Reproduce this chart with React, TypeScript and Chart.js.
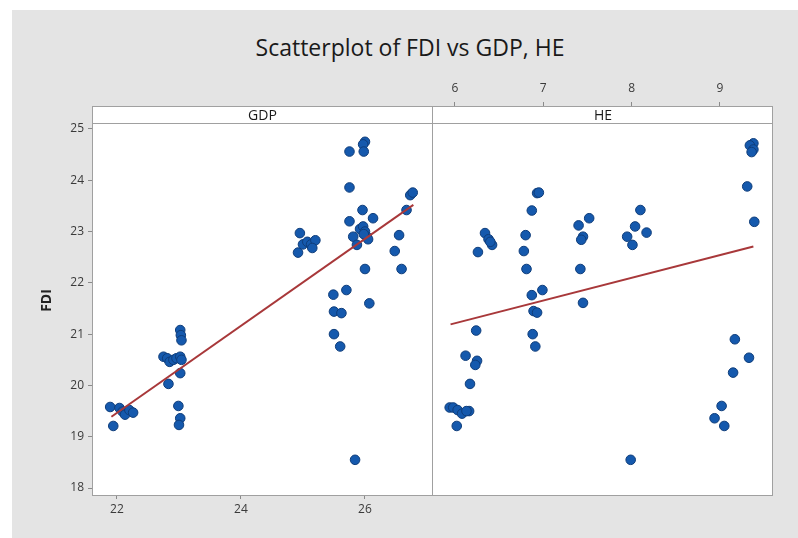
import React, { useEffect, useRef } from "react";
import { Chart, registerables } from "chart.js";

Chart.register(...registerables);

// ---- Data ----
const chartTitle = "Scatterplot of FDI vs GDP, HE";
const yAxisTitle = "FDI";
const panelNames = ["GDP", "HE"];

const fdiTicks = [18, 19, 20, 21, 22, 23, 24, 25];
const gdpTicks = [22, 24, 26];
const heTicks = [6, 7, 8, 9];

const gdpX = [
  21.89, 21.94, 22.04, 22.09, 22.13, 22.2, 22.26,
  22.75, 22.81, 22.85, 22.91, 22.96, 23.02, 23.04,
  22.83, 23.02, 23.03, 23.04, 23.02, 22.99, 23.02, 23.0,
  24.95, 24.92, 25.0, 25.07, 25.13, 25.2, 25.15,
  25.75, 26.0, 25.97, 25.98, 25.75, 25.96, 25.75, 26.13, 25.81, 25.87,
  25.92, 25.97, 26.0, 26.03, 26.05, 25.98, 26.0, 26.07, 25.49, 25.7,
  25.5, 25.62, 25.5, 25.6, 25.84,
  26.55, 26.48, 26.59, 26.67, 26.73, 26.77,
];
const gdpFdi = [
  19.58, 19.21, 19.56, 19.49, 19.43, 19.52, 19.47,
  20.56, 20.53, 20.46, 20.5, 20.53, 20.56, 20.5,
  20.03, 21.08, 20.98, 20.88, 20.24, 19.6, 19.36, 19.23,
  22.97, 22.59, 22.75, 22.8, 22.75, 22.83, 22.68,
  24.56, 24.75, 24.7, 24.56, 23.86, 23.42, 23.2, 23.26, 22.9, 22.74,
  23.05, 23.1, 23.0, 22.9, 22.85, 22.95, 22.27, 21.6, 21.77, 21.86,
  21.44, 21.41, 21.0, 20.76, 18.55,
  22.93, 22.62, 22.27, 23.42, 23.71, 23.76,
];

const heX = [
  9.38, 9.34, 9.38, 9.36, 9.31, 9.39, 9.17, 9.33, 9.15, 9.02, 8.94, 9.05, 7.99,
  8.1, 8.04, 8.17, 7.95, 8.01,
  7.52, 7.4, 7.45, 7.43, 7.42, 7.45,
  6.93, 6.95, 6.87, 6.8, 6.78, 6.81, 6.87, 6.99, 6.89, 6.93, 6.88, 6.91,
  6.34, 6.38, 6.42, 6.4, 6.26,
  6.24, 6.12, 6.25, 6.23, 6.17,
  5.94, 5.98, 6.03, 6.08, 6.16, 6.13, 6.02,
];
const heFdi = [
  24.72, 24.68, 24.6, 24.55, 23.88, 23.19, 20.9, 20.54, 20.25, 19.6, 19.36, 19.21, 18.55,
  23.42, 23.1, 22.98, 22.9, 22.74,
  23.26, 23.12, 22.9, 22.84, 22.27, 21.61,
  23.75, 23.76, 23.41, 22.93, 22.62, 22.27, 21.76, 21.86, 21.45, 21.42, 21.0, 20.76,
  22.97, 22.85, 22.74, 22.8, 22.6,
  21.07, 20.58, 20.48, 20.4, 20.03,
  19.57, 19.57, 19.52, 19.45, 19.5, 19.5, 19.21,
];

const gdpFitX = [21.91, 26.78];
const gdpFitY = [19.39, 23.52];
const heFitX = [5.95, 9.38];
const heFitY = [21.19, 22.71];

// ---- Styles ----
const FONT = "'Open Sans', 'Noto Sans', sans-serif";
const POINT_FILL = "#1559ad";
const POINT_EDGE = "#0f3d7a";
const LINE_COLOR = "#a8383a";
const FRAME = "#a0a0a0";
const TICK_TEXT = "#3a3a3a";

const Y_MIN = 17.864;
const Y_MAX = 25.448;

function toPoints(xs: number[], ys: number[]) {
  return xs.map((x, i) => ({ x, y: ys[i] }));
}

function fixedTicks(values: number[]) {
  return (scale: any) => {
    scale.ticks = values.map((v) => ({ value: v }));
  };
}

function datasets(xs: number[], ys: number[], fx: number[], fy: number[]) {
  return [
    {
      type: "line" as const,
      data: toPoints(fx, fy),
      borderColor: LINE_COLOR,
      borderWidth: 2,
      pointRadius: 0,
      showLine: true,
      fill: false,
    },
    {
      type: "scatter" as const,
      data: toPoints(xs, ys),
      backgroundColor: POINT_FILL,
      borderColor: POINT_EDGE,
      borderWidth: 1,
      pointRadius: 4.8,
    },
  ];
}

const tickGrid = {
  display: true,
  drawOnChartArea: false,
  drawTicks: true,
  tickLength: 4,
  tickColor: "#8a8a8a",
};

export default function App() {
  const leftRef = useRef<HTMLCanvasElement>(null);
  const rightRef = useRef<HTMLCanvasElement>(null);

  useEffect(() => {
    const left = new Chart(leftRef.current as HTMLCanvasElement, {
      type: "scatter",
      data: { datasets: datasets(gdpX, gdpFdi, gdpFitX, gdpFitY) as any },
      options: {
        responsive: false,
        animation: false,
        layout: { autoPadding: false, padding: { top: 46, right: 0, left: 0, bottom: 0 } },
        plugins: { legend: { display: false }, tooltip: { enabled: false }, title: { display: false } },
        scales: {
          x: {
            type: "linear",
            position: "bottom",
            min: 21.597,
            max: 27.097,
            afterBuildTicks: fixedTicks(gdpTicks),
            afterFit: (s: any) => { s.height = 35; },
            grid: tickGrid,
            border: { display: false },
            ticks: { color: TICK_TEXT, font: { family: FONT, size: 12 }, padding: 3, maxRotation: 0 },
          },
          y: {
            type: "linear",
            position: "left",
            min: Y_MIN,
            max: Y_MAX,
            afterBuildTicks: fixedTicks(fdiTicks),
            afterFit: (s: any) => { s.width = 80; },
            grid: tickGrid,
            border: { display: false },
            ticks: { color: TICK_TEXT, font: { family: FONT, size: 12 }, padding: 4 },
            title: {
              display: true,
              text: yAxisTitle,
              color: "#222",
              font: { family: FONT, size: 14, weight: "bold" },
              padding: { top: 27, bottom: 0 },
            },
          },
        },
      } as any,
    });

    const right = new Chart(rightRef.current as HTMLCanvasElement, {
      type: "scatter",
      data: { datasets: datasets(heX, heFdi, heFitX, heFitY) as any },
      options: {
        responsive: false,
        animation: false,
        layout: { autoPadding: false, padding: { top: 0, right: 25, left: 0, bottom: 35 } },
        plugins: { legend: { display: false }, tooltip: { enabled: false }, title: { display: false } },
        scales: {
          x: {
            type: "linear",
            position: "top",
            min: 5.751,
            max: 9.602,
            afterBuildTicks: fixedTicks(heTicks),
            afterFit: (s: any) => { s.height = 46; },
            grid: tickGrid,
            border: { display: false },
            ticks: { color: TICK_TEXT, font: { family: FONT, size: 12 }, padding: 6, maxRotation: 0 },
          },
          y: {
            type: "linear",
            display: false,
            min: Y_MIN,
            max: Y_MAX,
          },
        },
      } as any,
    });

    return () => {
      left.destroy();
      right.destroy();
    };
  }, []);

  const abs = (l: number, t: number, w: number, h: number): React.CSSProperties => ({
    position: "absolute",
    left: l,
    top: t,
    width: w,
    height: h,
    boxSizing: "border-box",
  });

  const strip = (name: string, l: number, w: number) => (
    <div
      style={{
        ...abs(l, 106, w, 18),
        background: "#fff",
        borderBottom: `1px solid ${FRAME}`,
        font: `14px ${FONT}`,
        color: "#1a1a1a",
        textAlign: "center",
        lineHeight: "17px",
      }}
    >
      {name}
    </div>
  );

  return (
    <div style={{ position: "absolute", left: 0, top: 0, width: 798, height: 538, background: "#fff", overflow: "hidden" }}>
      <div style={{ ...abs(12, 10, 786, 528), background: "#e4e4e4" }} />
      <div style={{ ...abs(92, 106, 681, 389), background: "#fff" }} />
      <div
        style={{
          ...abs(160, 29, 500, 36),
          textAlign: "center",
          font: `23px ${FONT}`,
          color: "#1a1a1a",
          lineHeight: "36px",
        }}
      >
        {chartTitle}
      </div>
      <canvas ref={leftRef} width={421} height={470} style={{ position: "absolute", left: 12, top: 60, width: 421, height: 470 }} />
      <canvas ref={rightRef} width={365} height={470} style={{ position: "absolute", left: 433, top: 60, width: 365, height: 470 }} />
      {strip(panelNames[0], 92, 341)}
      {strip(panelNames[1], 433, 340)}
      <div style={{ ...abs(92, 106, 681, 390), border: `1px solid ${FRAME}`, pointerEvents: "none" }} />
      <div style={{ ...abs(432, 106, 1, 389), background: FRAME }} />
    </div>
  );
}
